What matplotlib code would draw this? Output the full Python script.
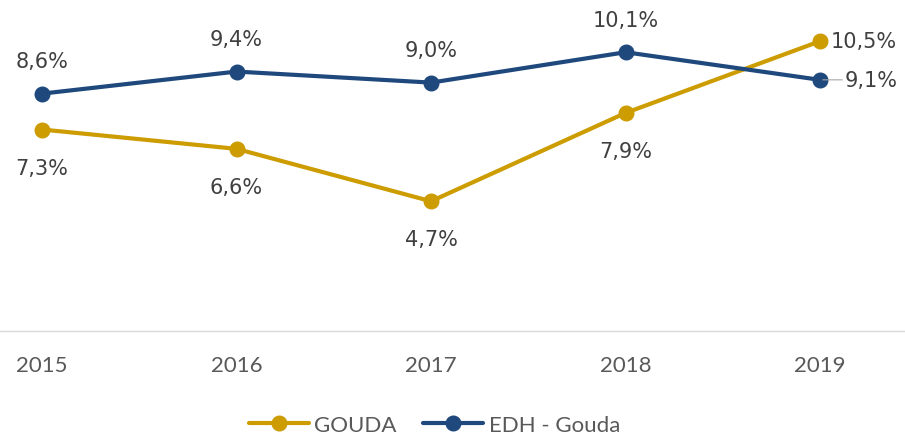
import matplotlib
matplotlib.use("Agg")
import matplotlib.pyplot as plt

years = ["2015", "2016", "2017", "2018", "2019"]
gouda = [7.3, 6.6, 4.7, 7.9, 10.5]
edh = [8.6, 9.4, 9.0, 10.1, 9.1]
series_names = ["GOUDA", "EDH - Gouda"]

GOLD = "#CC9C00"
NAVY = "#1F497D"
TXT = "#404040"

plt.rcParams['font.family'] = ['Lato', 'DejaVu Sans']

fig = plt.figure(figsize=(9.05, 4.35), dpi=100)
AX_BOTTOM_PX = 332
ax = fig.add_axes([0, 1 - AX_BOTTOM_PX / 435, 1, AX_BOTTOM_PX / 435])
x = list(range(len(years)))
step = 194.5
ax.set_xlim(-42 / step, (905 - 42) / step)
ax.set_ylim(0, AX_BOTTOM_PX / 27.6)

l1, = ax.plot(x, gouda, color=GOLD, lw=3, marker='o', ms=10.5, label=series_names[0], solid_capstyle='round')
l2, = ax.plot(x, edh, color=NAVY, lw=3, marker='o', ms=10.5, label=series_names[1], solid_capstyle='round')

def fmt(v):
    return f"{v:.1f}".replace('.', ',') + "%"

LBL = dict(fontsize=15, color=TXT, family=['DejaVu Sans'])
for i, v in enumerate(gouda):
    if i == len(gouda) - 1:
        ax.annotate(fmt(v), (i, v), xytext=(8, 0), textcoords='offset points',
                    ha='left', va='center', **LBL)
    else:
        ax.annotate(fmt(v), (i, v), xytext=(0, -27.5), textcoords='offset points',
                    ha='center', va='center', **LBL)
for i, v in enumerate(edh):
    if i == len(edh) - 1:
        ax.annotate(fmt(v), (i, v), xytext=(18, 0), textcoords='offset points',
                    ha='left', va='center', **LBL,
                    arrowprops=dict(arrowstyle='-', color='#A6A6A6', lw=0.8,
                                    shrinkA=0, shrinkB=2))
    else:
        ax.annotate(fmt(v), (i, v), xytext=(0, 23.5), textcoords='offset points',
                    ha='center', va='center', **LBL)

for s in ['top', 'right', 'left']:
    ax.spines[s].set_visible(False)
ax.spines['bottom'].set_color('#D9D9D9')
ax.spines['bottom'].set_linewidth(1)
ax.set_yticks([])
ax.set_xticks(x)
ax.set_xticklabels(years, fontsize=16, color='#595959')
ax.tick_params(axis='x', length=0, pad=17)

fig.legend(handles=[l1, l2], loc='center', bbox_to_anchor=(0.48, 1 - 426 / 435),
           ncol=2, frameon=False, fontsize=16, handlelength=2.7, columnspacing=1.2,
           handletextpad=0.25, labelcolor='#595959', borderpad=0)

fig.savefig("out.png", dpi=100)
